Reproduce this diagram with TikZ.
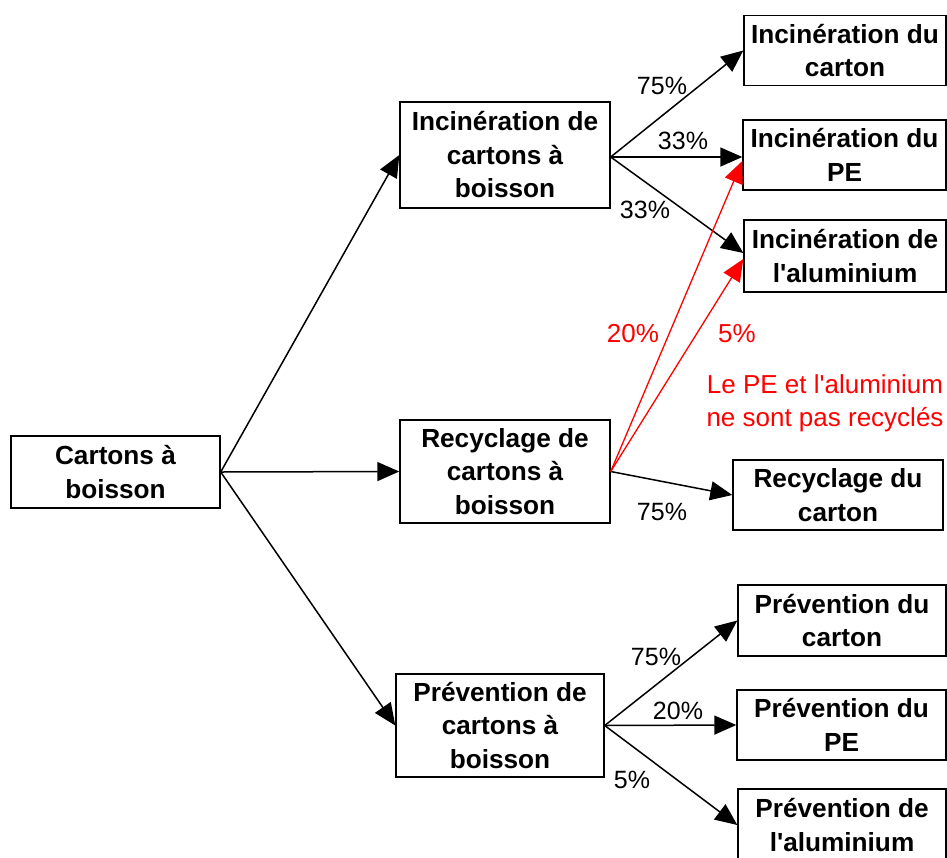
\documentclass[tikz,border=0pt]{standalone}
\usepackage{fontspec}
\setmainfont{Liberation Sans}
\usetikzlibrary{arrows.meta}
\begin{document}
\begin{tikzpicture}[x=1pt,y=-1pt,
  box/.style={draw, line width=1.4pt, fill=white, align=center, inner sep=0pt,
    font=\bfseries\fontsize{26.2}{33.5}\selectfont},
  lab/.style={font=\fontsize{25}{33}\selectfont, inner sep=0pt},
  redlab/.style={lab, text=red, font=\fontsize{26}{33}\selectfont},
  arr/.style={line width=1.5pt, -{Triangle[length=22pt,width=19pt]}},
  redarr/.style={arr, draw=red, line width=1.3pt, -{Triangle[length=22pt,width=19pt,fill=red]}}
]
\useasboundingbox (0,0) rectangle (947,857);
% main boxes
\node[box, minimum width=209pt, minimum height=72pt] (src) at (115.5,472) {Cartons à\\boisson};
\node[box, minimum width=210pt, minimum height=106pt] (inc) at (505,155) {Incinération de\\cartons à\\boisson};
\node[box, minimum width=210pt, minimum height=103pt] (rec) at (505,471.5) {Recyclage de\\cartons à\\boisson};
\node[box, minimum width=208pt, minimum height=103pt] (pre) at (500,725.5) {Prévention de\\cartons à\\boisson};
% right boxes
\node[box, minimum width=202pt, minimum height=70pt] (inccar) at (845,50.5) {Incinération du\\carton};
\node[box, minimum width=203pt, minimum height=70pt] (incpe) at (844.5,155) {Incinération du\\PE};
\node[box, minimum width=202pt, minimum height=72pt] (incalu) at (845,256) {Incinération de\\l\textquotesingle aluminium};
\node[box, minimum width=210pt, minimum height=70pt] (reccar) at (838,495) {Recyclage du\\carton};
\node[box, minimum width=208pt, minimum height=71pt] (precar) at (842,620.5) {Prévention du\\carton};
\node[box, minimum width=209pt, minimum height=70pt] (prepe) at (841.5,725) {Prévention du\\PE};
\node[box, minimum width=208pt, minimum height=72pt] (prealu) at (842,825) {Prévention de\\l\textquotesingle aluminium};
% arrows from source
\draw[arr] (src.east) -- (inc.west);
\draw[arr] (src.east) -- (rec.west);
\draw[arr] (src.east) -- (pre.west);
% incineration
\coordinate (incout) at ([yshift=-2pt]inc.east);
\draw[arr] (incout) -- (inccar.west);
\draw[arr] (incout) -- ([yshift=-2pt]incpe.west);
\draw[arr] (incout) -- ([yshift=3pt]incalu.west);
% recycling
\coordinate (recout) at (rec.east);
\draw[arr] (recout) -- (reccar.west);
\draw[redarr] (recout) -- ([yshift=-6pt]incpe.west);
\draw[redarr] (recout) -- ([yshift=-3pt]incalu.west);
% prevention
\draw[arr] (pre.east) -- (precar.west);
\draw[arr] (pre.east) -- (prepe.west);
\draw[arr] (pre.east) -- (prealu.west);
% labels
\node[lab] (l1) at (662,86) {75\%};
\node[lab] (l2) at (683,141) {33\%};
\node[lab] (l3) at (645,210) {33\%};
\node[redlab] (l4) at (633,334) {20\%};
\node[redlab] (l5) at (737,334) {5\%};
\node[redlab, align=center] (note) at (825,403.5) {Le PE et l\textquotesingle aluminium\\ne sont pas recyclés};
\node[lab] (l6) at (662,512) {75\%};
\node[lab] (l7) at (656,657) {75\%};
\node[lab] (l8) at (678,711) {20\%};
\node[lab] (l9) at (632,780) {5\%};
\end{tikzpicture}
\end{document}
